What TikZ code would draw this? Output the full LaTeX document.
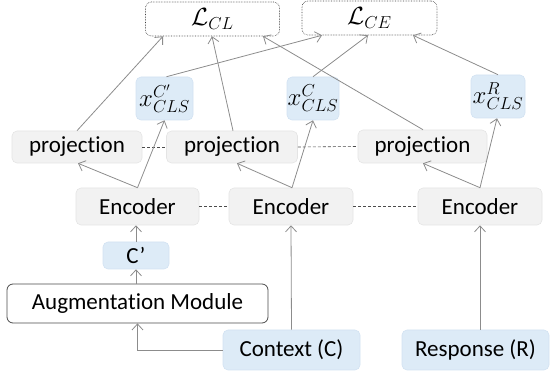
\documentclass[tikz,border=0pt]{standalone}
\usepackage{fontspec}
\setmainfont[Ligatures=NoCommon]{Carlito}
\usetikzlibrary{arrows.meta}
\definecolor{grayfill}{HTML}{F2F2F2}
\definecolor{grayedge}{HTML}{E4E4E4}
\definecolor{bluefill}{HTML}{DDEBF7}
\definecolor{blueedge}{HTML}{D2E2F2}
\definecolor{linegray}{HTML}{8C8C8C}
\begin{document}
\begin{tikzpicture}[x=1pt,y=-1pt,
  every node/.style={font=\fontsize{23}{26}\selectfont, inner sep=0pt},
  mathtext/.style={font=\fontsize{26}{28}\selectfont},
  graybox/.style={draw=grayedge, fill=grayfill, rounded corners=5pt, line width=0.6pt},
  bluebox/.style={draw=blueedge, fill=bluefill, rounded corners=5pt, line width=0.6pt},
  lossbox/.style={draw=black!75, densely dotted, fill=white, rounded corners=6pt, line width=0.6pt},
  augbox/.style={draw=black!70, fill=white, rounded corners=6pt, line width=0.8pt},
  arr/.style={draw=linegray, line width=0.8pt, -{Straight Barb[length=6pt,width=11pt]}},
  dashlink/.style={draw=black!70, dash pattern=on 3pt off 2pt, line width=0.6pt}]
\useasboundingbox (0,0) rectangle (550,374);
% loss boxes
\node[lossbox, mathtext, minimum width=134pt, minimum height=34pt] (lcl) at (212.5,19) {$\mathcal{L}_{CL}$};
\node[lossbox, mathtext, minimum width=135pt, minimum height=34pt] (lce) at (369.5,18) {$\mathcal{L}_{CE}$};
% x boxes
\node[bluebox, mathtext, minimum width=57pt, minimum height=43pt] (xcp) at (164.5,98.5) {$x_{CLS}^{C'}$};
\node[bluebox, mathtext, minimum width=52pt, minimum height=43pt] (xc) at (313,98.5) {$x_{CLS}^{C}$};
\node[bluebox, mathtext, minimum width=54pt, minimum height=43pt] (xr) at (498,96.5) {$x_{CLS}^{R}$};
% projections
\node[graybox, minimum width=130pt, minimum height=32pt] (p1) at (77,147) {projection};
\node[graybox, minimum width=131pt, minimum height=32pt] (p2) at (232,147) {projection};
\node[graybox, minimum width=129pt, minimum height=33pt] (p3) at (422.5,146.5) {projection};
% encoders
\node[graybox, minimum width=123pt, minimum height=37pt] (e1) at (137.5,206.5) {Encoder};
\node[graybox, minimum width=124pt, minimum height=37pt] (e2) at (291,206.5) {Encoder};
\node[graybox, minimum width=124pt, minimum height=37pt] (e3) at (480,206.5) {Encoder};
% C'
\node[bluebox, minimum width=66pt, minimum height=27pt] (cp) at (136,255.5) {C’};
\node[augbox, minimum width=261pt, minimum height=39pt] (aug) at (137.5,303.5) {Augmentation Module};
\node[bluebox, minimum width=137pt, minimum height=40pt] (ctx) at (291.5,350) {Context (C)};
\node[bluebox, minimum width=147pt, minimum height=40pt] (resp) at (475.5,350) {Response (R)};
% dashed links
\draw[dashlink] (p1.east) -- (p2.west);
\draw[dashlink] (p2.east) -- (p3.west);
\draw[dashlink] (e1.east) -- (e2.west);
\draw[dashlink] (e2.east) -- (e3.west);
% bottom arrows
\draw[arr] (ctx.north) -- (e2.south);
\draw[arr] (resp.north -| e3.south) -- (e3.south);
\draw[arr] (ctx.west) -| (aug.south);
\draw[arr] (aug.north -| cp.south) -- (cp.south);
\draw[arr] (cp.north) -- (e1.south -| cp.north);
% encoder to projection / x
\draw[arr] (e1.north) -- ([xshift=1pt]p1.south);
\draw[arr] (e1.north) -- (xcp.south);
\draw[arr] ([xshift=1pt]e2.north) -- ([xshift=5pt]p2.south);
\draw[arr] ([xshift=1pt]e2.north) -- (xc.south);
\draw[arr] (e3.north) -- ([xshift=0.5pt]p3.south);
\draw[arr] (e3.north) -- ([xshift=-1pt]xr.south);
% to losses
\draw[arr] (p1.north) -- ([xshift=-49.5pt]lcl.south);
\draw[arr] ([xshift=1pt]p2.north) -- ([xshift=-0.5pt]lcl.south);
\draw[arr] ([xshift=0.5pt]p3.north) -- ([xshift=50.5pt]lcl.south);
\draw[arr] ([xshift=2pt]xcp.north) -- ([xshift=-47.5pt]lce.south);
\draw[arr] (xc.north) -- ([xshift=-1.5pt]lce.south);
\draw[arr] (xr.north) -- ([xshift=43.5pt]lce.south);
\end{tikzpicture}
\end{document}
